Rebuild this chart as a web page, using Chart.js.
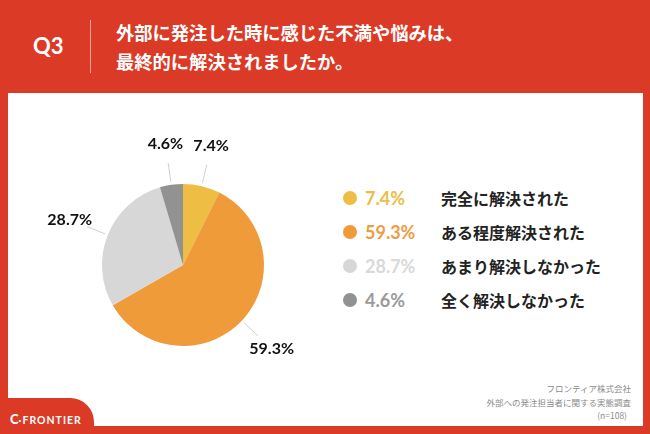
<!DOCTYPE html>
<html lang="ja">
<head>
<meta charset="utf-8">
<script src="https://cdn.jsdelivr.net/npm/chart.js@4"></script>
<style>
  html, body { margin: 0; padding: 0; }
  body {
    width: 650px; height: 434px; position: relative; overflow: hidden;
    background: #da3a26;
    font-family: "Noto Sans CJK JP", sans-serif;
  }
  #q { position: absolute; left: 33px; top: 32px; color: #fff; font: bold 22px "Lato", "Noto Sans CJK JP", sans-serif; }
  #divider { position: absolute; left: 90px; top: 20px; width: 1px; height: 53px; background: rgba(255,255,255,0.55); }
  #title { position: absolute; left: 116px; top: 18px; color: #fff; font-weight: bold; font-size: 18.3px; line-height: 29px; }
  #panel { position: absolute; left: 8px; top: 93px; width: 635px; height: 333px; background: #fff; }
  #chartBox { position: absolute; left: 23px; top: 115px; width: 320px; height: 300px; }
  #legend { position: absolute; left: 343px; top: 181px; }
  .row { height: 34px; display: flex; align-items: center; }
  .dot { width: 14px; height: 14px; border-radius: 50%; margin-right: 8px; }
  .pct { width: 76px; font: bold 18px "Lato", "Noto Sans CJK JP", sans-serif; }
  .lab { font-weight: bold; font-size: 16px; color: #222; }
  #note { position: absolute; right: 19px; top: 382px; text-align: right; color: #8a8a8a; font-size: 8.5px; line-height: 13.5px; }
  #tab { position: absolute; left: 0; top: 398px; width: 94px; height: 40px; background: #da3a26; border-top-right-radius: 24px; }
  #logo { position: absolute; left: 10px; top: 411px; color: #fff; font: bold 10.5px "Lato", sans-serif; letter-spacing: 1px; }
  #logo b { font-size: 13px; letter-spacing: 0; }
</style>
</head>
<body>
<div id="q">Q3</div>
<div id="divider"></div>
<div id="title">外部に発注した時に感じた不満や悩みは、<br>最終的に解決されましたか。</div>
<div id="panel"></div>
<div id="chartBox"><canvas id="pie"></canvas></div>
<div id="legend"></div>
<div id="note">フロンティア株式会社<br>外部への発注担当者に関する実態調査<br><span style="padding-right:4px">(n=108)</span></div>
<div id="tab"></div>
<div id="logo"><b>C</b>·FRONTIER</div>
<script>
// data
const categories = ['完全に解決された', 'ある程度解決された', 'あまり解決しなかった', '全く解決しなかった'];
const values = [7.4, 59.3, 28.7, 4.6];
const colors = ['#edbd44', '#f09b39', '#d7d7d7', '#929292'];
const textColors = ['#ecbd4a', '#ee9c45', '#d9d9d9', '#9b9b9b'];

// legend on the right
const legend = document.getElementById('legend');
categories.forEach((name, i) => {
  const row = document.createElement('div');
  row.className = 'row';
  row.innerHTML = `<div class="dot" style="background:${colors[i]}"></div>` +
    `<div class="pct" style="color:${textColors[i]}">${values[i]}%</div>` +
    `<div class="lab">${name}</div>`;
  legend.appendChild(row);
});

// labels outside the slices with short leader lines
const outsideLabels = {
  id: 'outsideLabels',
  afterDraw(chart) {
    const ctx = chart.ctx;
    const meta = chart.getDatasetMeta(0);
    ctx.save();
    meta.data.forEach((arc, i) => {
      const p = arc.getProps(['x', 'y', 'startAngle', 'endAngle', 'outerRadius']);
      const mid = (p.startAngle + p.endAngle) / 2;
      const cos = Math.cos(mid), sin = Math.sin(mid);
      const r = p.outerRadius;
      ctx.strokeStyle = '#cfcfcf';
      ctx.lineWidth = 1;
      ctx.beginPath();
      ctx.moveTo(p.x + cos * (r + 3), p.y + sin * (r + 3));
      ctx.lineTo(p.x + cos * (r + 22), p.y + sin * (r + 22));
      ctx.stroke();
      ctx.fillStyle = '#111';
      ctx.font = 'bold 16px Lato, "Noto Sans CJK JP", sans-serif';
      ctx.textAlign = 'center';
      ctx.textBaseline = 'middle';
      ctx.fillText(values[i] + '%', p.x + cos * (r + 41), p.y + sin * (r + 41));
    });
    ctx.restore();
  }
};

new Chart(document.getElementById('pie'), {
  type: 'pie',
  data: {
    labels: categories,
    datasets: [{
      data: values,
      backgroundColor: colors,
      borderWidth: 0
    }]
  },
  options: {
    responsive: true,
    maintainAspectRatio: false,
    animation: false,
    layout: { padding: { left: 79, right: 79, top: 69, bottom: 69 } },
    plugins: {
      legend: { display: false },
      tooltip: { enabled: false }
    }
  },
  plugins: [outsideLabels]
});
</script>
</body>
</html>
